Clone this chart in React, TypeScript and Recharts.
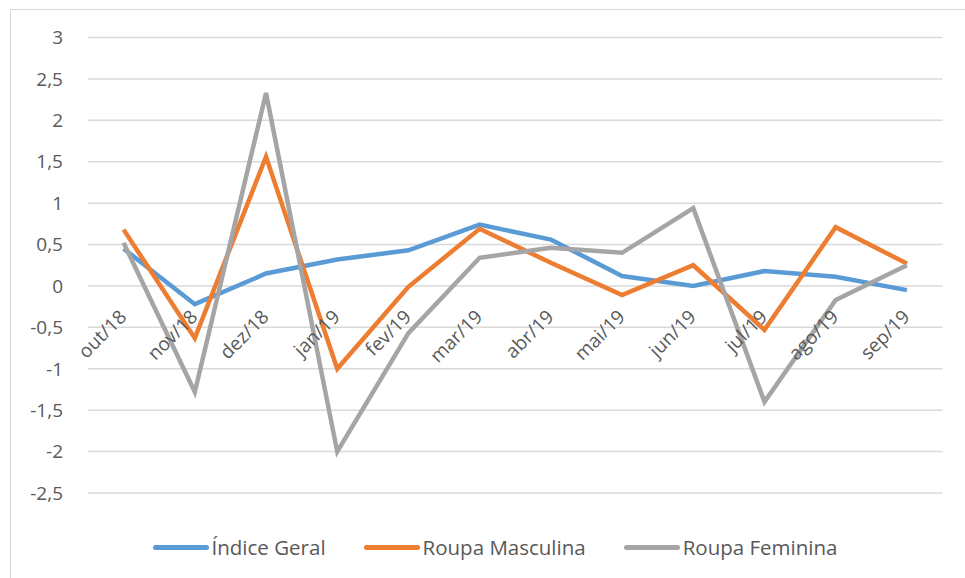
import { LineChart, Line, XAxis, YAxis, CartesianGrid, Legend } from 'recharts'

const MONTHS = ['out/18', 'nov/18', 'dez/18', 'jan/19', 'fev/19', 'mar/19', 'abr/19', 'mai/19', 'jun/19', 'jul/19', 'ago/19', 'sep/19']
const INDICE_GERAL = [0.45, -0.22, 0.15, 0.32, 0.43, 0.74, 0.56, 0.12, 0.0, 0.18, 0.11, -0.05]
const ROUPA_MASCULINA = [0.68, -0.63, 1.56, -1.0, -0.01, 0.69, 0.28, -0.11, 0.25, -0.53, 0.71, 0.27]
const ROUPA_FEMININA = [0.52, -1.28, 2.33, -2.0, -0.57, 0.34, 0.46, 0.4, 0.94, -1.4, -0.17, 0.25]
const Y_TICKS = [-2.5, -2, -1.5, -1, -0.5, 0, 0.5, 1, 1.5, 2, 2.5, 3]
const SERIES_ORDER = ['Índice Geral', 'Roupa Masculina', 'Roupa Feminina']

const data = MONTHS.map((m, i) => ({
  month: m,
  geral: INDICE_GERAL[i],
  masc: ROUPA_MASCULINA[i],
  fem: ROUPA_FEMININA[i],
}))

const FONT = '"Open Sans", sans-serif'
const TEXT = '#595959'

// category labels sit on the zero line, like Excel does it
function MonthTick({ x, y, payload }: any) {
  const px = x + 4
  const py = y - 175
  return (
    <text
      x={px}
      y={py}
      transform={`rotate(-45, ${px}, ${py})`}
      textAnchor="end"
      fill={TEXT}
      fontSize={19}
      fontFamily={FONT}
    >
      {payload.value}
    </text>
  )
}

function LegendContent({ payload }: any) {
  const items = [...(payload ?? [])].sort(
    (a: any, b: any) => SERIES_ORDER.indexOf(a.value) - SERIES_ORDER.indexOf(b.value)
  )
  return (
    <div style={{ display: 'flex', justifyContent: 'center', marginLeft: 25, height: 30, alignItems: 'center' }}>
      {items.map((p: any, i: number) => (
        <div key={p.value} style={{ display: 'flex', alignItems: 'center', marginLeft: i === 0 ? 0 : 38 }}>
          <span style={{ display: 'inline-block', width: 56, height: 5, borderRadius: 2.5, background: p.color, marginRight: 3 }} />
          <span style={{ fontFamily: FONT, fontSize: 20.5, color: TEXT }}>{p.value}</span>
        </div>
      ))}
    </div>
  )
}

export default function App() {
  return (
    <div style={{ position: 'absolute', left: 0, top: 0, width: 965, height: 578, overflow: 'hidden', background: '#fff' }}>
      <div style={{ position: 'absolute', left: 10, top: 9, width: 1000, height: 600, border: '1px solid #d9d9d9' }} />
      <div style={{ position: 'absolute', left: 0, top: 0 }}>
        <LineChart width={965} height={578} data={data} margin={{ top: 37.5, right: 22.5, left: 0, bottom: 16 }}>
          <CartesianGrid vertical={false} stroke="#d9d9d9" strokeWidth={1.5} />
          <XAxis
            dataKey="month"
            axisLine={false}
            tickLine={false}
            tickSize={0}
            tickMargin={0}
            height={39}
            interval={0}
            padding={{ left: 35.6, right: 35.6 }}
            tick={<MonthTick />}
          />
          <YAxis
            domain={[-2.5, 3]}
            ticks={Y_TICKS}
            width={88}
            axisLine={false}
            tickLine={false}
            tickSize={0}
            tickMargin={25}
            tick={{ fill: TEXT, fontSize: 19, fontFamily: FONT }}
            tickFormatter={(v: number) => String(v).replace('.', ',')}
          />
          <Legend verticalAlign="bottom" wrapperStyle={{ left: 0, width: 965 }} content={<LegendContent />} />
          <Line type="linear" dataKey="geral" name="Índice Geral" stroke="#5B9BD5" strokeWidth={4.5} dot={false} isAnimationActive={false} />
          <Line type="linear" dataKey="masc" name="Roupa Masculina" stroke="#ED7D31" strokeWidth={4.5} dot={false} isAnimationActive={false} />
          <Line type="linear" dataKey="fem" name="Roupa Feminina" stroke="#A5A5A5" strokeWidth={4.5} dot={false} isAnimationActive={false} />
        </LineChart>
      </div>
    </div>
  )
}
